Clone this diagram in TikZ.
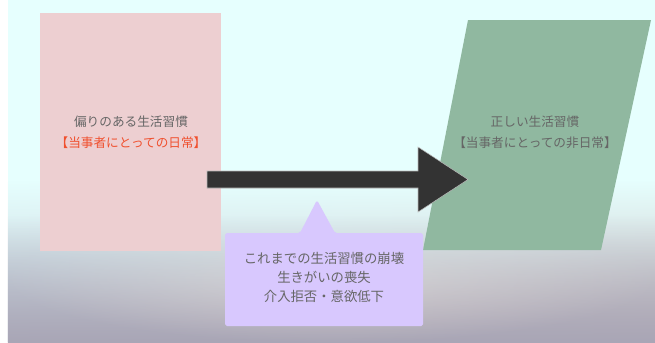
\documentclass[tikz,border=0pt]{standalone}
\usepackage{fontspec}
\newfontfamily\jp{Noto Sans CJK JP}
\usepackage{tikz}
\usetikzlibrary{fadings}

\definecolor{bgtop}{HTML}{E6FFFE}
\definecolor{bgleft}{HTML}{C4CCD8}
\definecolor{bgright}{HTML}{C9BCBE}
\definecolor{bginner}{HTML}{D2C8CA}
\definecolor{bgouter}{HTML}{A9A6B6}
\definecolor{pinkbox}{HTML}{EDCFD1}
\definecolor{greenbox}{HTML}{90B8A0}
\definecolor{arrowfill}{HTML}{333333}
\definecolor{calloutfill}{HTML}{D8C8FE}
\definecolor{textgray}{HTML}{666666}
\definecolor{redtext}{HTML}{F0502E}

\begin{document}
\begin{tikzpicture}[x=0.02cm,y=-0.02cm,
  txt/.style={font=\jp\fontsize{7.2}{12}\selectfont,text=textgray,align=center,inner sep=0pt},
  calltxt/.style={txt,font=\jp\fontsize{7.6}{11}\selectfont}]
\useasboundingbox (0,0) rectangle (655,342);
\fill[white] (0,0) rectangle (655,342);
\fill[bgtop] (8,0) rectangle (655,342);
\shade[left color=bgleft,right color=bgright,path fading=north] (8,180) rectangle (655,342);
\shade[inner color=bginner,outer color=bgouter,path fading=north] (8,215) rectangle (655,342);

\fill[pinkbox] (40,13) rectangle (221,251);
\fill[greenbox] (468,20) -- (651,20) -- (601,250) -- (423,250) -- cycle;

\node[txt] (lefttext) at (131,132) {偏りのある生活習慣\\\textcolor{redtext}{【当事者にとっての日常】}};
\node[txt] (righttext) at (535,132) {正しい生活習慣\\【当事者にとっての非日常】};

\fill[arrowfill,draw=gray!55,line width=0.3pt] (207,171) -- (418,171) -- (418,147) -- (468,179.5)
  -- (418,212) -- (418,188) -- (207,188) -- cycle;

\fill[calloutfill,rounded corners=1pt] (225,233) -- (300,233) -- (317,200) -- (335,233) -- (423,233)
  -- (423,326) -- (225,326) -- cycle;
\node[calltxt] (callouttext) at (324,277.5) {これまでの生活習慣の崩壊\\生きがいの喪失\\介入拒否・意欲低下};
\end{tikzpicture}
\end{document}
